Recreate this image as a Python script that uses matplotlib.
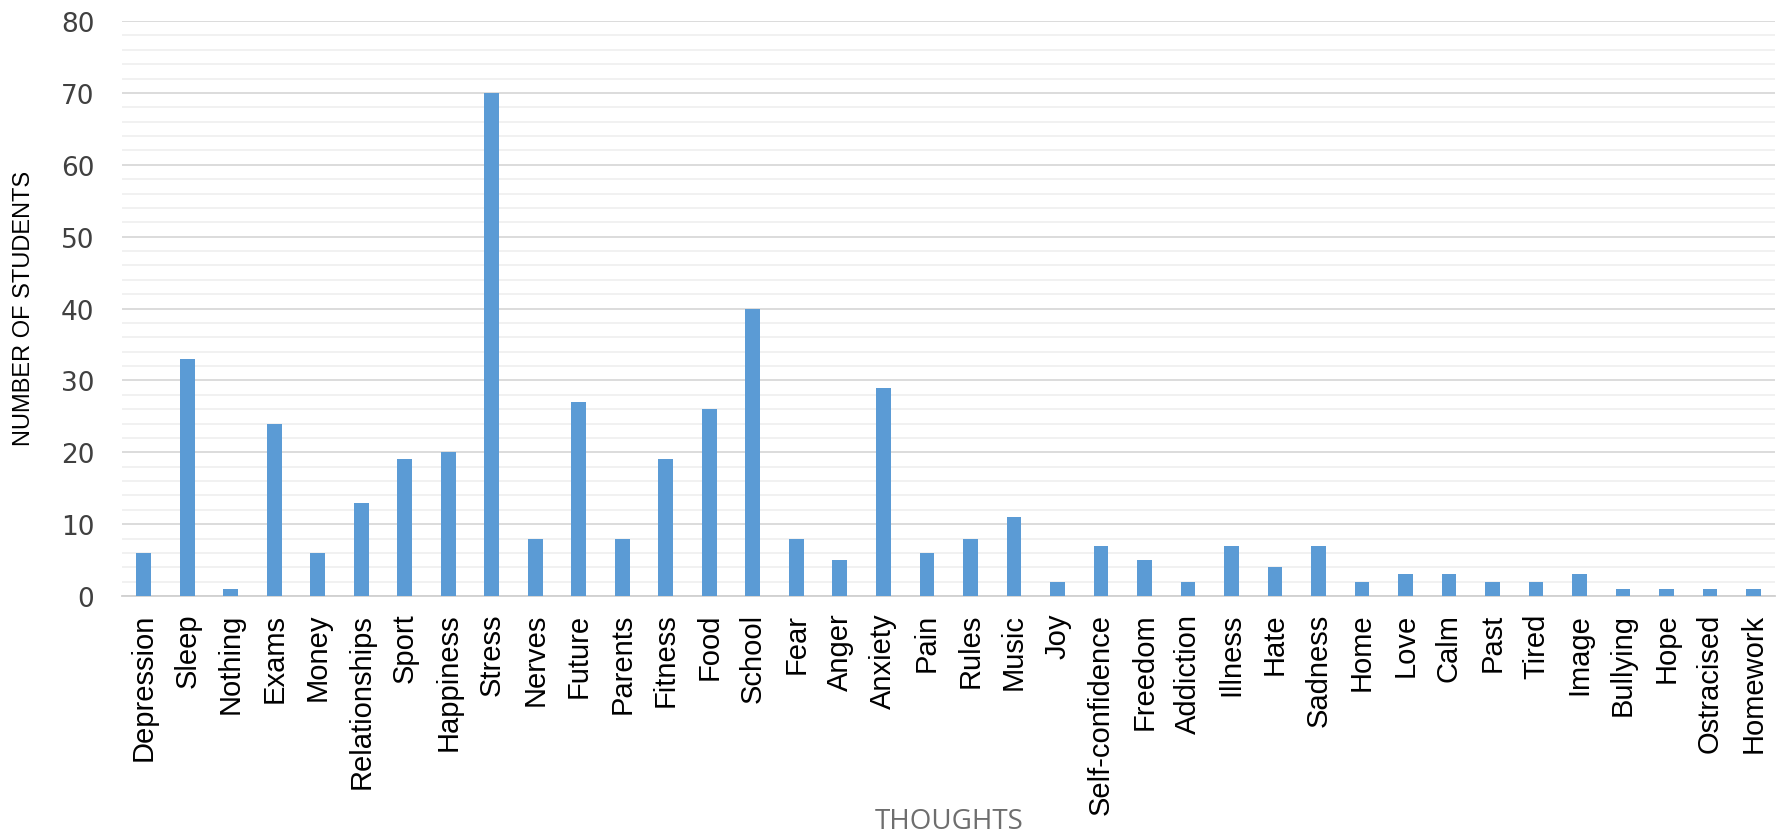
import matplotlib
matplotlib.use("Agg")
import matplotlib.pyplot as plt
from matplotlib.ticker import MultipleLocator
from matplotlib import font_manager

thoughts = ["Depression", "Sleep", "Nothing", "Exams", "Money", "Relationships",
            "Sport", "Happiness", "Stress", "Nerves", "Future", "Parents", "Fitness",
            "Food", "School", "Fear", "Anger", "Anxiety", "Pain", "Rules", "Music",
            "Joy", "Self-confidence", "Freedom", "Addiction", "Illness", "Hate",
            "Sadness", "Home", "Love", "Calm", "Past", "Tired", "Image", "Bullying",
            "Hope", "Ostracised", "Homework"]
students = [6, 33, 1, 24, 6, 13, 19, 20, 70, 8, 27, 8, 19, 26, 40, 8, 5, 29, 6, 8,
            11, 2, 7, 5, 2, 7, 4, 7, 2, 3, 3, 2, 2, 3, 1, 1, 1, 1]
y_ticks = [0, 10, 20, 30, 40, 50, 60, 70, 80]

names = {f.name for f in font_manager.fontManager.ttflist}
narrow = "Liberation Sans Narrow" if "Liberation Sans Narrow" in names else "Liberation Sans"
plt.rcParams["font.family"] = [narrow, "DejaVu Sans"]

fig = plt.figure(figsize=(17.77, 8.37), dpi=100)
ax = fig.add_axes([0.0687, 0.2867, 0.9303, 0.687])

x = range(len(thoughts))
ax.bar(x, students, width=0.34, color="#5B9BD5", zorder=3)

ax.set_xlim(-0.5, len(thoughts) - 0.5)
ax.set_ylim(0, 80)
ax.set_yticks(y_ticks)
ax.yaxis.set_minor_locator(MultipleLocator(2))
ax.grid(axis="y", which="major", color="#d9d9d9", linewidth=1.3, zorder=0)
ax.grid(axis="y", which="minor", color="#f0f0f0", linewidth=1.3, zorder=0)

ax.set_xticks(list(x))
ax.set_xticklabels(thoughts, rotation=90, fontsize=21, color="black")
ax.tick_params(axis="both", which="both", length=0)
ax.tick_params(axis="x", pad=12)
ax.tick_params(axis="y", pad=20, colors="#404040")
for lbl in ax.get_yticklabels():
    lbl.set_family(["DejaVu Sans"])
    lbl.set_fontsize(19)

for side in ["top", "right", "left"]:
    ax.spines[side].set_visible(False)
ax.spines["bottom"].set_color("#d0d0d0")
ax.spines["bottom"].set_linewidth(1.3)

fig.text(0.0135, 0.632, "NUMBER OF STUDENTS", rotation=90, ha="center", va="center",
         fontsize=17, color="black")
fig.text(0.534, 0.018, "THOUGHTS", ha="center", va="center", fontsize=20,
         color="#6e6e6e", family=["Open Sans", "DejaVu Sans"])

fig.savefig("out.png", dpi=100)
